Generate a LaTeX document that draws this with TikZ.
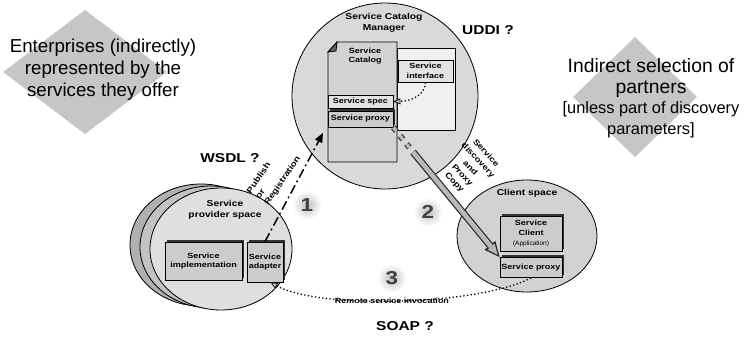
\documentclass[tikz,border=0pt]{standalone}
\usepackage{fontspec}
\setmainfont{Liberation Sans}
\newfontfamily\lblfont[FakeStretch=1.2]{Liberation Sans}
\usetikzlibrary{shapes.geometric,arrows.meta,shadows,calc}

\begin{document}
\begin{tikzpicture}[
    x=0.03cm, y=-0.03cm,
    lblbig/.style={font=\lblfont\bfseries\fontsize{11}{13}\selectfont},
    lblmid/.style={font=\lblfont\bfseries\fontsize{7.3}{9.5}\selectfont, align=center},
    lblsmall/.style={font=\lblfont\bfseries\fontsize{6.4}{8.2}\selectfont, align=center},
    space/.style={ellipse, draw, line width=0.7pt, inner sep=0pt},
    box/.style={draw, line width=0.7pt, fill=gray!40, lblsmall, inner sep=1pt},
    boxshadow/.style={drop shadow={shadow xshift=2pt, shadow yshift=2pt, fill=black!80, opacity=1}},
    num/.style={circle, minimum size=0.84cm, inner color=gray!50, outer color=white,
        text=black!75, font=\lblfont\bfseries\fontsize{16}{18}\selectfont},
    publine/.style={line width=1.3pt, dash pattern=on 8pt off 3pt on 1.5pt off 3pt,
        -{Triangle[length=8pt,width=7pt,line width=0pt]}},
    dotline/.style={line width=1.1pt, dotted,
        -{Triangle[length=6pt,width=5pt,line width=0.6pt,fill=gray!40]}},
    fatout/.style={line width=6pt, black!85, -{Triangle[length=13pt,width=12pt,line width=0pt]}},
    fatin/.style={line width=4pt, gray!55, shorten >=2.5pt, -{Triangle[length=9pt,width=8pt,line width=0pt]}}
]
\useasboundingbox (0,0) rectangle (747,337);

\fill[gray!45] (85,10) -- (167,72) -- (85,134) -- (3,72) -- cycle;
\node[align=center, font=\fontsize{16}{18.8}\selectfont] (enterp) at (103,70)
    {Enterprises (indirectly)\\represented by the\\services they offer};
\fill[gray!45] (635,37) -- (697,97) -- (635,157) -- (573,97) -- cycle;
\node[align=center, font=\fontsize{16.5}{17.5}\selectfont] (partners) at (651,98)
    {Indirect selection of\\partners\\{\fontsize{14}{17}\selectfont [unless part of discovery}\\{\fontsize{14}{17}\selectfont parameters]}};

\node[space, fill=gray!30, minimum width=5.58cm, minimum height=5.58cm] (catmgr) at (385,96) {};
\node[lblmid] (catlbl) at (384,23) {Service Catalog\\Manager};
\draw[line width=0.7pt, fill=gray!12] (397,48) rectangle (455,130);
\draw[line width=0.7pt, fill=gray!35] (328,52) -- (337,42) -- (397,42) -- (397,162) -- (328,162) -- cycle;
\draw[line width=0.7pt, fill=black!60] (328,52) -- (337,42) -- (336,51) -- cycle;
\node[lblsmall] (catdoc) at (365,56) {Service\\Catalog};
\node[box, fill=gray!22, minimum width=1.95cm, minimum height=0.39cm] (spec) at (360.5,101.5) {Service spec};
\node[box, boxshadow, minimum width=1.95cm, minimum height=0.48cm] (proxy) at (360.5,119) {Service proxy};
\node[box, fill=gray!22, minimum width=1.65cm, minimum height=0.66cm] (iface) at (425.5,71) {Service\\interface};
\node[lblbig] (uddi) at (488,30) {UDDI ?};

\node[space, fill=gray!62, minimum width=4.26cm, minimum height=3.66cm] (prov3) at (201,245) {};
\node[space, fill=gray!48, minimum width=4.26cm, minimum height=3.66cm] (prov2) at (211,247) {};
\node[space, fill=gray!25, minimum width=4.26cm, minimum height=3.66cm] (prov) at (221,249) {};
\node[lblmid] (provlbl) at (225,210) {Service\\provider space};
\node[box, boxshadow, minimum width=2.31cm, minimum height=1.14cm] (impl) at (203.5,261) {Service\\implementation};
\node[box, boxshadow, minimum width=1.08cm, minimum height=1.2cm] (adapter) at (265,262) {Service\\adapter};
\node[lblbig] (wsdl) at (230,158) {WSDL ?};

\node[space, fill=gray!35, minimum width=4.2cm, minimum height=3.36cm] (client) at (527,236) {};
\node[lblmid] (clientlbl) at (527,193) {Client space};
\node[box, boxshadow, minimum width=1.86cm, minimum height=1.05cm] (sclient) at (531,233.5)
    {Service\\Client\\{\normalfont\fontsize{5.5}{8}\selectfont(Application)}};
\node[box, boxshadow, minimum width=1.86cm, minimum height=0.6cm] (cproxy) at (531,267.5) {Service proxy};

\node[num] (n1) at (307,205) {1};
\node[num] (n2) at (428,212) {2};
\node[num] (n3) at (392,278) {3};

\coordinate (catpub) at (323,133);
\draw[publine] (adapter.north) -- (catpub);
\node[font=\lblfont\bfseries\fontsize{7}{9}\selectfont, rotate=56, align=left] (publbl) at (274,175) {Publish\\or\\Registration};

\coordinate (dmid) at (413,152);
\draw[line width=5pt, black!80, dash pattern=on 4pt off 5pt] (proxy.south east) -- (dmid);
\draw[line width=3pt, gray!55, dash pattern=on 4pt off 5pt] (proxy.south east) -- (dmid);
\draw[fatout] (dmid) -- (cproxy.north west);
\draw[fatin] (dmid) -- (cproxy.north west);
\node[font=\lblfont\bfseries\fontsize{6.8}{9.2}\selectfont, rotate=-47, align=center] (disclbl) at (470,168)
    {Service\\discovery\\and\\Proxy\\Copy};

\draw[dotline] (iface.south) .. controls (425,95) and (412,101) .. (spec.east);
\draw[dotline] (cproxy.south) .. controls (480,305) and (320,310) .. (adapter.-75);
\node[lblsmall] (remlbl) at (392,301) {Remote service invocation};
\node[lblbig] (soap) at (405,326) {SOAP ?};

\end{tikzpicture}
\end{document}
